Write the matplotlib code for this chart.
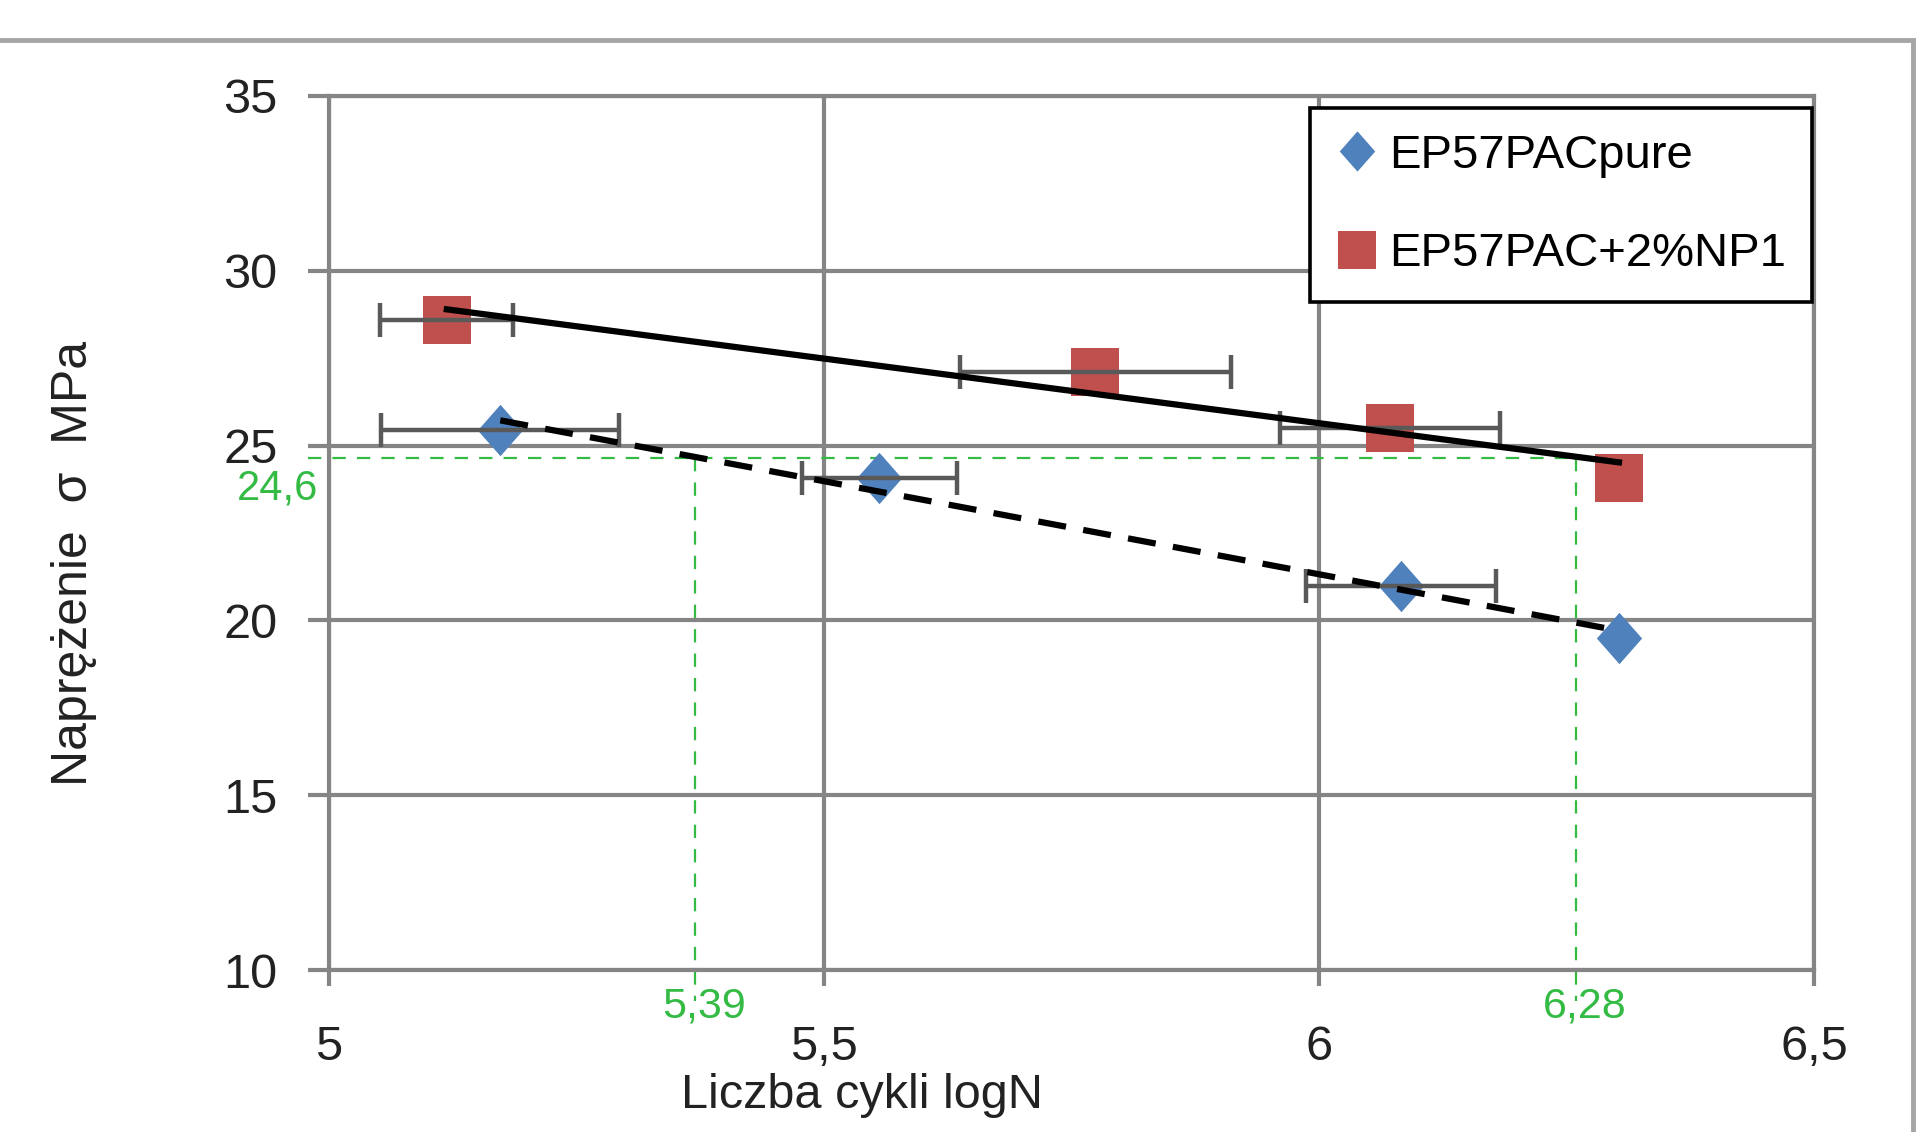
import numpy as np
import matplotlib.pyplot as plt
from matplotlib.lines import Line2D
from matplotlib.patches import Rectangle

plt.rcParams['font.family'] = ['Liberation Sans', 'DejaVu Sans']

# values: log N, stress (MPa), +/- spread in log N
pure_logN = [5.173, 5.556, 6.083, 6.303]
pure_stress = [25.44, 24.08, 20.98, 19.49]
pure_err = [0.12, 0.078, 0.096]

np1_logN = [5.119, 5.774, 6.072, 6.303]
np1_stress = [28.59, 27.11, 25.50, 24.07]
np1_err = [0.067, 0.137, 0.111]

series_names = ['EP57PACpure', 'EP57PAC+2%NP1']

x_ticks = [5, 5.5, 6, 6.5]
x_ticklabels = ['5', '5,5', '6', '6,5']
y_ticks = [10, 15, 20, 25, 30, 35]

# green reading lines
guide_stress = 24.65
guide_logN = [5.37, 6.26]
guide_labels = ['5,39', '6,28']
guide_stress_label = '24,6'

blue = '#4F81BD'
red = '#C0504D'
grid_gray = '#858585'
err_gray = '#595959'
green = '#33bb44'
diamond = [(0, 1), (0.88, 0), (0, -1), (-0.88, 0), (0, 1)]

fig = plt.figure(figsize=(19.23, 11.32), dpi=100)
ax = fig.add_axes([329/1923, 1 - 970/1132, (1814 - 329)/1923, (970 - 96)/1132])

# outer chart frame
fig.patches.append(Rectangle((-0.05, -0.05), 1913/1923 + 0.05, 1 - 40/1132 + 0.05,
                             transform=fig.transFigure, fill=False,
                             edgecolor='#a6a6a6', lw=3.5))

ax.set_xlim(5, 6.5)
ax.set_ylim(10, 35)
ax.set_xticks(x_ticks)
ax.set_xticklabels(x_ticklabels)
ax.set_yticks(y_ticks)
ax.grid(True, color=grid_gray, lw=3)
ax.set_axisbelow(True)
for s in ax.spines.values():
    s.set_color(grid_gray)
    s.set_linewidth(3)
ax.tick_params(axis='y', length=15, width=3, color=grid_gray, pad=22,
               labelsize=35, labelcolor='#222222')
ax.tick_params(axis='x', length=11.5, width=3, color=grid_gray, pad=28,
               labelsize=35, labelcolor='#222222')

# green guide lines
for gx, lab in zip(guide_logN, guide_labels):
    ax.plot([gx, gx], [guide_stress, 9.1], color=green, lw=1.6, dashes=(6, 5),
            clip_on=False, zorder=2)
    ax.annotate(lab, (gx, 10), xytext=(6, -26), textcoords='offset points',
                ha='center', va='center', color=green, fontsize=31)
ax.plot([4.979, guide_logN[1]], [guide_stress, guide_stress], color=green, lw=1.6,
        dashes=(6, 5), clip_on=False, zorder=2)
ax.annotate(guide_stress_label, (5, guide_stress), xytext=(-8, -22),
            textcoords='offset points', ha='right', va='center', color=green,
            fontsize=30)

# markers
ax.plot(pure_logN, pure_stress, ls='none', marker=diamond, ms=37, color=blue,
        mew=0, zorder=3)
ax.plot(np1_logN, np1_stress, ls='none', marker='s', ms=34, color=red,
        mew=0, zorder=3)

# error bars
ax.errorbar(pure_logN[:3], pure_stress[:3], xerr=pure_err, fmt='none',
            ecolor=err_gray, elinewidth=3.2, capsize=12.5, capthick=3.2, zorder=4)
ax.errorbar(np1_logN[:3], np1_stress[:3], xerr=np1_err, fmt='none',
            ecolor=err_gray, elinewidth=3.2, capsize=12.5, capthick=3.2, zorder=4)

# linear trend lines
for xs, ys, style in [(pure_logN, pure_stress, (4.5, 2.8)), (np1_logN, np1_stress, None)]:
    k, b = np.polyfit(xs, ys, 1)
    tx = np.array([min(xs), max(xs)])
    line, = ax.plot(tx, k * tx + b, color='black', lw=4.5, zorder=5)
    if style:
        line.set_dashes(style)

handles = [Line2D([], [], ls='none', marker=diamond, ms=29, color=blue, mew=0),
           Line2D([], [], ls='none', marker='s', ms=28, color=red, mew=0)]
leg = ax.legend(handles, series_names, loc='upper left',
                bbox_to_anchor=((1310 - 329)/1485, 1 - (108 - 96)/874),
                frameon=True, fancybox=False, edgecolor='black', fontsize=34,
                labelspacing=1.15, handlelength=0.9, handletextpad=0.22,
                borderpad=0.55, borderaxespad=0, framealpha=1)
leg.get_frame().set_linewidth(2.6)
leg.set_zorder(6)

fig.text(74/1923, 1 - 563/1132, 'Naprężenie  σ  MPa', rotation=90,
         ha='center', va='center', fontsize=36, color='#222222')
fig.text(862/1923, 1 - 1096/1132, 'Liczba cykli logN', ha='center',
         va='center', fontsize=35, color='#222222')

plt.savefig('out.png', dpi=100)
